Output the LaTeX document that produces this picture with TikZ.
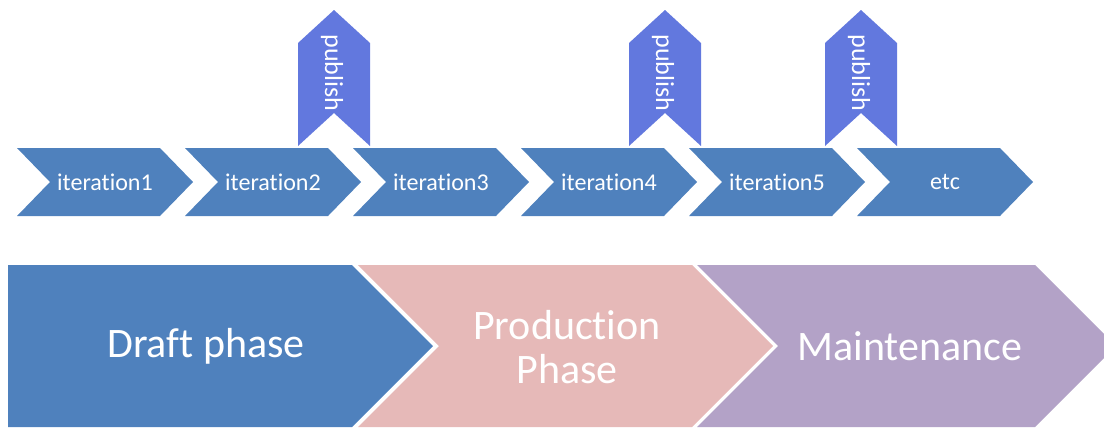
\documentclass[tikz,border=0pt]{standalone}
\usepackage{fontspec}
\setmainfont{Carlito}[Ligatures=NoCommon]
\definecolor{itblue}{HTML}{4F81BD}
\definecolor{pubblue}{HTML}{6278DE}
\definecolor{draftc}{HTML}{4F81BD}
\definecolor{prodc}{HTML}{E6B9B8}
\definecolor{maintc}{HTML}{B3A2C7}
\tikzset{
  itchev/.style={fill=itblue},
  pubchev/.style={fill=pubblue},
  ittext/.style={text=white, inner sep=0pt, font=\fontsize{13.7}{16}\selectfont},
  pubtext/.style={text=white, inner sep=0pt, rotate=-90, font=\fontsize{14.8}{17}\selectfont},
  bigtext/.style={text=white, inner sep=0pt, align=center, font=\fontsize{23.9}{27}\selectfont},
}
\begin{document}
\begin{tikzpicture}[x=0.02cm, y=-0.02cm]
\useasboundingbox (0,0) rectangle (1104,427);
% publish chevrons
\foreach \cx/\nm in {334/p1, 665/p2, 861/p3}{
  \fill[pubchev] (\cx-36,146) -- (\cx-36,43) -- (\cx,10) -- (\cx+36,43) -- (\cx+36,146) -- (\cx,113) -- cycle;
  \node[pubtext] (\nm) at (\cx-2,73) {publish};
}
% iteration chevrons
\foreach \x/\lab/\nm in {17/iteration1/i1, 185/iteration2/i2, 353/iteration3/i3, 521/iteration4/i4, 689/iteration5/i5, 857/etc/i6}{
  \fill[itchev] (\x,148) -- (\x+143,148) -- (\x+176,182) -- (\x+143,216) -- (\x,216) -- (\x+33,182) -- cycle;
  \node[ittext] (\nm) at (\x+88,182) {\lab};
}
% phase chevrons
\fill[draftc] (8,265) -- (352,265) -- (433,346) -- (352,427) -- (8,427) -- cycle;
\fill[prodc] (358,265) -- (692,265) -- (773,346) -- (692,427) -- (358,427) -- (439,346) -- cycle;
\fill[maintc] (697,265) -- (1035,265) -- (1116,346) -- (1035,427) -- (697,427) -- (778,346) -- cycle;
\node[bigtext] (draft) at (206,346) {Draft phase};
\node[bigtext] (prod) at (567,347) {Production\\[-2pt]Phase};
\node[bigtext] (maint) at (910,346) {Maintenance};
\end{tikzpicture}
\end{document}
